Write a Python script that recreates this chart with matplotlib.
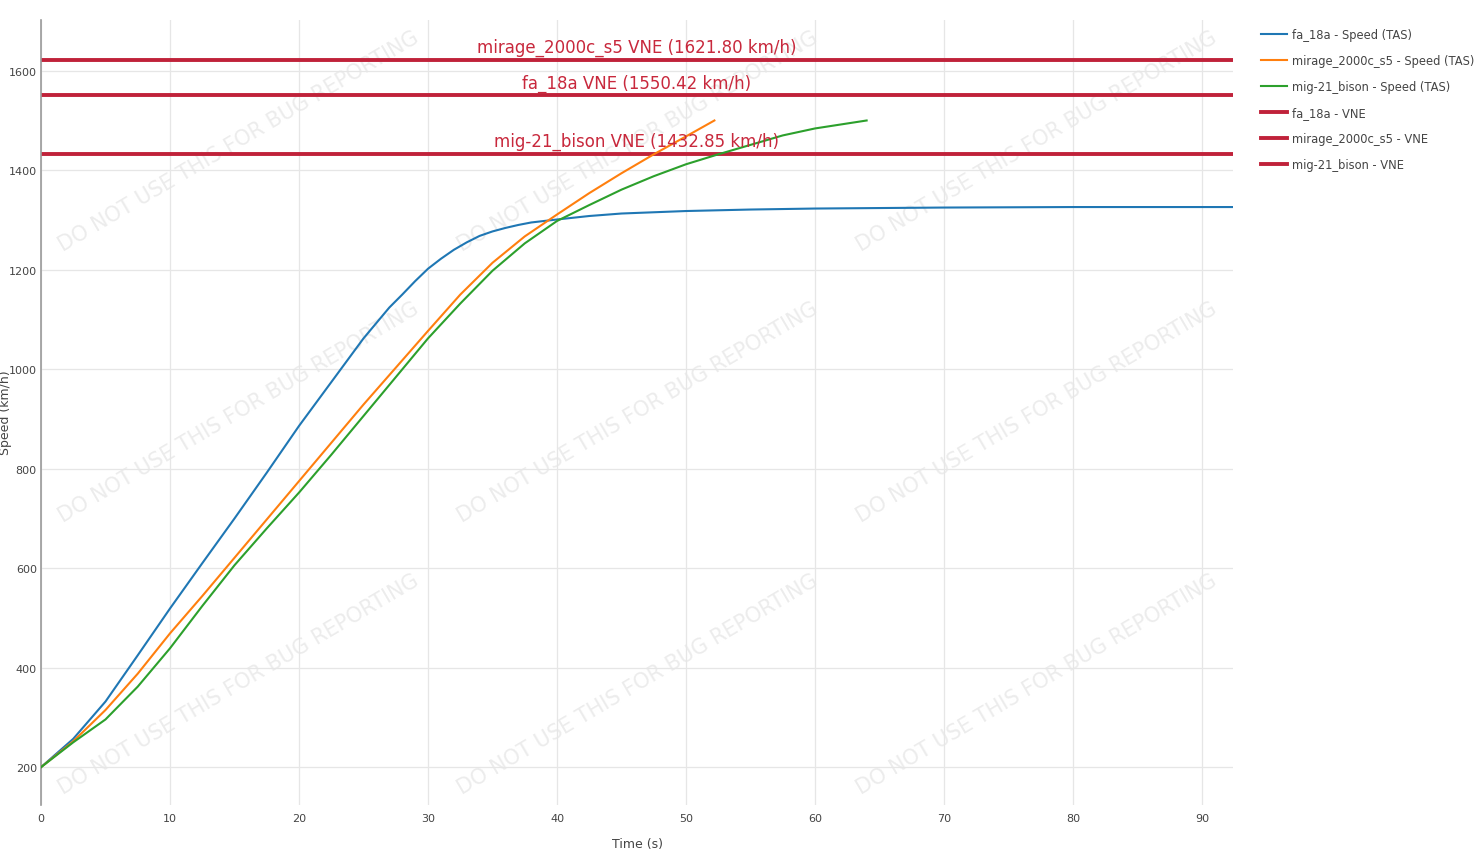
import matplotlib
matplotlib.use("Agg")
import matplotlib.pyplot as plt

# time (s) / speed TAS (km/h)
fa18_t = [0, 2.5, 5, 7.5, 10, 12.5, 15, 17.5, 20, 22.5, 25, 27, 28, 29, 30,
          31, 32, 33, 34, 35, 36, 37, 38, 40, 42.5, 45, 50, 55, 60, 70, 80, 92.4]
fa18_v = [200, 257, 332, 425, 519, 610, 700, 792, 886, 974, 1062, 1124, 1150,
          1177, 1202, 1222, 1240, 1255, 1268, 1277, 1284, 1290, 1295, 1301,
          1308, 1313, 1318, 1321, 1323, 1325, 1326, 1326]

mirage_t = [0, 2.5, 5, 7.5, 10, 12.5, 15, 17.5, 20, 22.5, 25, 27.5, 30, 32.5,
            35, 37.5, 40, 42.5, 45, 47.5, 50, 52.2]
mirage_v = [200, 252, 315, 388, 469, 544, 621, 698, 775, 852, 929, 1003, 1077,
            1150, 1214, 1267, 1311, 1354, 1394, 1432, 1468, 1500]

mig21_t = [0, 2.5, 5, 7.5, 10, 12.5, 15, 17.5, 20, 22.5, 25, 27.5, 30, 32.5,
           35, 37.5, 40, 42.5, 45, 47.5, 50, 52.5, 55, 57.5, 60, 62.5, 64]
mig21_v = [200, 250, 296, 362, 439, 524, 606, 680, 752, 828, 906, 984, 1062,
           1132, 1198, 1253, 1298, 1330, 1361, 1388, 1412, 1432, 1451, 1470,
           1484, 1494, 1500]

vne_names = ["fa_18a", "mirage_2000c_s5", "mig-21_bison"]
vne_values = [1550.42, 1621.80, 1432.85]

W, H = 1478, 862
fig = plt.figure(figsize=(W / 100, H / 100), dpi=100)
ax = fig.add_axes([41 / W, 1 - 806 / H, (1233 - 41) / W, (806 - 21) / H])

VNE_COLOR = '#c0223a'

# watermark grid, behind the axes
for cy in (142, 413, 685):
    for cx in (239, 638, 1037):
        fig.text(cx / W, 1 - cy / H, "DO NOT USE THIS FOR BUG REPORTING",
                 rotation=30.5, rotation_mode='anchor', ha='center', va='center',
                 fontsize=15, color='#ececec', zorder=-1)

l1, = ax.plot(fa18_t, fa18_v, color='#1f77b4', lw=1.5, label='fa_18a - Speed (TAS)', zorder=3)
l2, = ax.plot(mirage_t, mirage_v, color='#ff7f0e', lw=1.5, label='mirage_2000c_s5 - Speed (TAS)', zorder=3)
l3, = ax.plot(mig21_t, mig21_v, color='#2ca02c', lw=1.5, label='mig-21_bison - Speed (TAS)', zorder=3)

xmax = 92.4
vne_handles = []
for name, v in zip(vne_names, vne_values):
    h = ax.axhline(v, color=VNE_COLOR, lw=2.8, label=f'{name} - VNE', zorder=2)
    vne_handles.append(h)
    ax.annotate(f'{name} VNE ({v:.2f} km/h)', xy=(xmax / 2, v), xytext=(0, 2.5),
                textcoords='offset points', ha='center', va='bottom',
                fontsize=12, color='#c8283c', zorder=4)

ax.set_xlim(0, xmax)
ax.set_ylim(124, 1702)
ax.set_xticks(range(0, 91, 10))
ax.set_yticks(range(200, 1601, 200))
ax.grid(True, color='#e6e6e6', lw=0.9)
ax.set_axisbelow(True)
for s in ('top', 'right', 'bottom'):
    ax.spines[s].set_visible(False)
ax.spines['left'].set_color('#9a9a9a')
ax.spines['left'].set_linewidth(1.2)
ax.tick_params(length=0, labelsize=8, colors='#444444')
ax.tick_params(axis='x', pad=6)
ax.tick_params(axis='y', pad=3)
ax.patch.set_alpha(0)

fig.text(637 / W, 1 - 845 / H, 'Time (s)', ha='center', va='center', fontsize=9, color='#444444')
fig.text(6 / W, 1 - 413 / H, 'Speed (km/h)', rotation=90, ha='center', va='center',
         fontsize=9, color='#444444')

fig.legend(handles=[l1, l2, l3] + vne_handles, loc='upper left',
           bbox_to_anchor=(1256 / W, 1 - 24 / H), frameon=False, fontsize=8.3,
           handlelength=2.3, handletextpad=0.45, labelspacing=1.14,
           labelcolor='#444444', borderaxespad=0)

fig.savefig('out.png', dpi=100)
